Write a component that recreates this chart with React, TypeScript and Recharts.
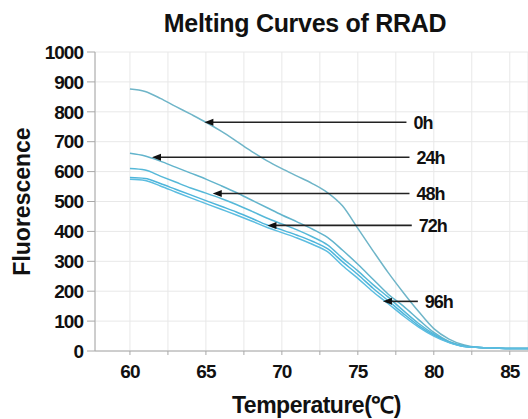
import { LineChart, Line, XAxis, YAxis, CartesianGrid, ReferenceLine } from "recharts";

const temps = [60, 61, 62, 63, 64, 65, 66, 67, 68, 69, 70, 71, 72, 73, 74, 75, 76, 77, 78, 79, 80, 81, 82, 83, 84, 85, 86.2];

const h0 = [876, 868, 845, 818, 792, 765, 735, 702, 668, 637, 610, 585, 560, 530, 485, 410, 335, 262, 195, 132, 75, 40, 20, 12, 10, 8, 8];
const h24 = [661, 652, 635, 615, 595, 575, 553, 530, 505, 480, 455, 432, 408, 380, 337, 290, 240, 190, 150, 105, 62, 32, 17, 12, 10, 8, 8];
const h48 = [610, 605, 585, 565, 545, 528, 510, 490, 468, 445, 425, 405, 382, 355, 310, 268, 222, 180, 135, 92, 57, 30, 16, 12, 10, 8, 8];
const h72 = [580, 577, 560, 541, 522, 503, 484, 465, 444, 422, 405, 387, 367, 342, 298, 256, 210, 168, 125, 85, 53, 29, 15, 12, 10, 8, 8];
const h96 = [574, 570, 552, 532, 512, 493, 474, 455, 435, 414, 396, 378, 357, 332, 285, 243, 198, 158, 117, 80, 50, 28, 15, 12, 10, 8, 8];

const xTicks = [60, 62.5, 65, 67.5, 70, 72.5, 75, 77.5, 80, 82.5, 85];
const yTicks = [0, 100, 200, 300, 400, 500, 600, 700, 800, 900, 1000];

// arrow annotations: label, value level, tail temperature, tip temperature
const notes = [
  { label: "0h", y: 765, from: 78.2, to: 64.9 },
  { label: "24h", y: 648, from: 78.4, to: 61.45 },
  { label: "48h", y: 527, from: 78.4, to: 65.45 },
  { label: "72h", y: 420, from: 78.55, to: 69.05 },
  { label: "96h", y: 166, from: 78.95, to: 76.65 },
];

const data = temps.map((t, i) => ({ t, h0: h0[i], h24: h24[i], h48: h48[i], h72: h72[i], h96: h96[i] }));

const series = [
  { key: "h0", color: "#6fb5c8" },
  { key: "h24", color: "#62b4cc" },
  { key: "h48", color: "#55b8d8" },
  { key: "h72", color: "#4db5db" },
  { key: "h96", color: "#5cbde0" },
];

const font = "'Liberation Sans', Arial, sans-serif";

const Arrow = (label: string) => (props: any) => {
  const { x1, y1, x2, y2 } = props;
  return (
    <g>
      <line x1={x1} y1={y1} x2={x2 + 6} y2={y2} stroke="#222" strokeWidth={1.6} />
      <polygon points={`${x2},${y2} ${x2 + 9},${y2 - 3.5} ${x2 + 9},${y2 + 3.5}`} fill="#111" />
      <text x={x1 + 7} y={y1} dy="0.36em" fontFamily={font} fontSize={18} fontWeight="bold" letterSpacing={-1} fill="#111">
        {label}
      </text>
    </g>
  );
};

export default function App() {
  return (
    <div style={{ position: "absolute", left: 0, top: 0, width: 528, height: 419, background: "#fff" }}>
      <LineChart width={528} height={419} data={data} margin={{ top: 52, right: 0, left: 0, bottom: 0 }}>
        <text x={305} y={23} textAnchor="middle" dominantBaseline="central" fontFamily={font} fontSize={25} fontWeight="bold" letterSpacing={-0.3} fill="#111">
          Melting Curves of RRAD
        </text>
        <CartesianGrid stroke="#e8e8e8" strokeWidth={1} />
        <XAxis
          type="number"
          dataKey="t"
          domain={[57.7, 86.2]}
          ticks={xTicks}
          allowDataOverflow
          height={68}
          tickSize={4}
          tickMargin={10}
          tickFormatter={(v: number) => (v % 5 === 0 ? String(v) : "")}
          stroke="#a8a8a8"
          tick={{ fill: "#111", fontSize: 19, fontWeight: "bold", fontFamily: font, letterSpacing: -1 }}
          label={{ value: "Temperature(℃)", position: "insideBottom", offset: 6, fill: "#111", fontSize: 23, fontWeight: "bold", fontFamily: font, letterSpacing: -0.5, dx: 5 }}
        />
        <YAxis
          type="number"
          domain={[0, 1000]}
          ticks={yTicks}
          width={95}
          tickSize={8}
          tickMargin={4}
          stroke="#a8a8a8"
          tick={{ fill: "#111", fontSize: 19, fontWeight: "bold", fontFamily: font, letterSpacing: -1 }}
          label={{ value: "Fluorescence", angle: -90, position: "insideLeft", offset: 22, fill: "#111", fontSize: 23, fontWeight: "bold", fontFamily: font, style: { textAnchor: "middle" } }}
        />
        {series.map((s) => (
          <Line key={s.key} type="monotone" dataKey={s.key} stroke={s.color} strokeWidth={1.5} dot={false} isAnimationActive={false} />
        ))}
        {notes.map((n) => (
          <ReferenceLine
            key={n.label}
            segment={[{ x: n.from, y: n.y }, { x: n.to, y: n.y }]}
            stroke="#222"
            shape={Arrow(n.label)}
          />
        ))}
      </LineChart>
    </div>
  );
}
